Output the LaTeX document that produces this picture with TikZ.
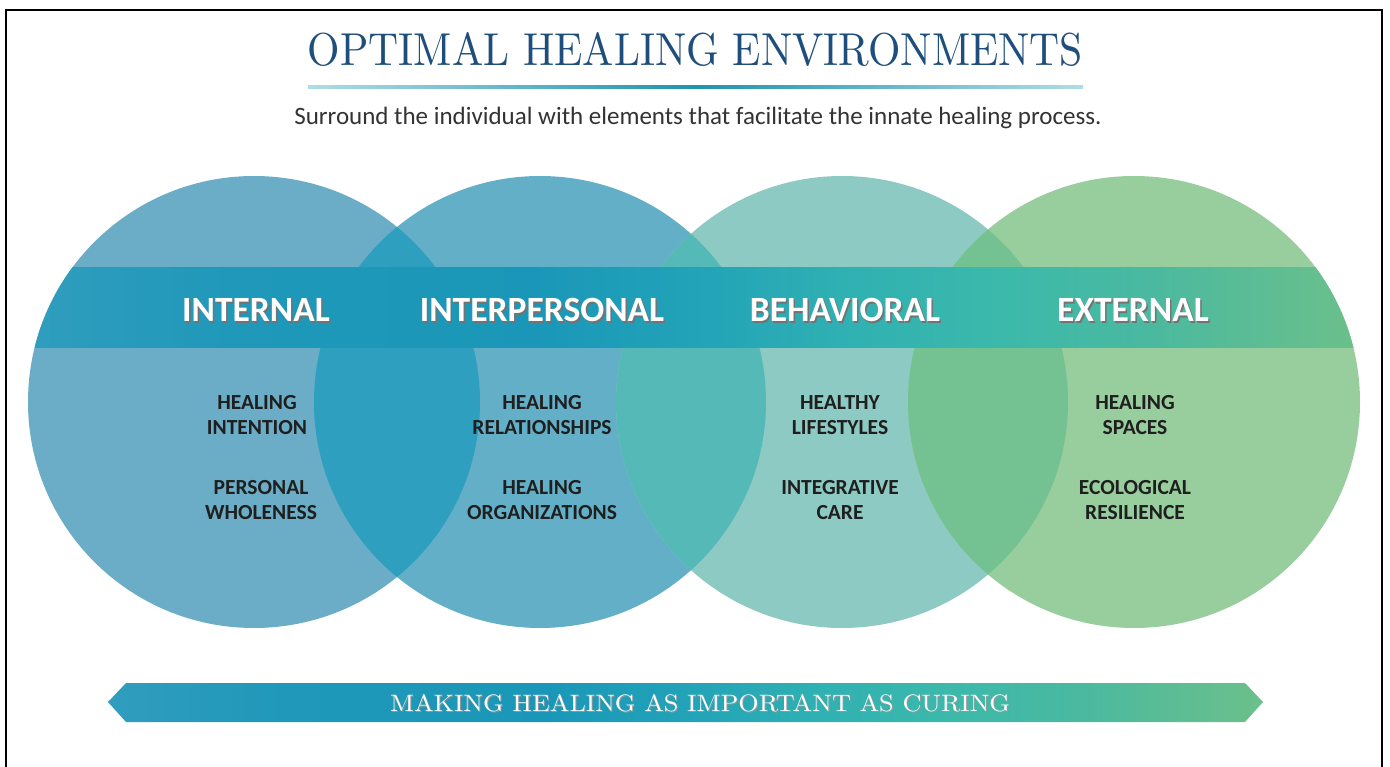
\documentclass[tikz,border=0pt]{standalone}
\usepackage{fontspec}
\usepackage{graphicx}
\newfontfamily\carlito{Carlito}
\definecolor{cA}{HTML}{6BADC7}
\definecolor{cB}{HTML}{64AFC8}
\definecolor{cC}{HTML}{8DCAC3}
\definecolor{cD}{HTML}{98CD9D}
\definecolor{lAB}{HTML}{2F9FBF}
\definecolor{lBC}{HTML}{55BAB7}
\definecolor{lCD}{HTML}{74C191}
\definecolor{bs1}{HTML}{309DBE}
\definecolor{bs2}{HTML}{1F98B9}
\definecolor{bs3}{HTML}{1A97B8}
\definecolor{bs4}{HTML}{22A3B8}
\definecolor{bs5}{HTML}{30B1B2}
\definecolor{bs6}{HTML}{3CB9AB}
\definecolor{bs7}{HTML}{4AB9A0}
\definecolor{bs8}{HTML}{6CC08A}
\definecolor{titleblue}{HTML}{1E4E7C}
\definecolor{linemid}{HTML}{1E93B0}
\definecolor{lineend}{HTML}{B0DCE5}
\pgfdeclarehorizontalshading{bandshade}{100bp}{color(0bp)=(bs1); color(25bp)=(bs1); color(33bp)=(bs2); color(44bp)=(bs3); color(50bp)=(bs4); color(56bp)=(bs5); color(61.5bp)=(bs6); color(67bp)=(bs7); color(75bp)=(bs8); color(100bp)=(bs8)}
\begin{document}
\begin{tikzpicture}[x=1pt,y=-1pt,
  hdr/.style={font=\carlito\bfseries\fontsize{35.5}{38}\selectfont, text=white, inner sep=0pt},
  hdrshadow/.style={font=\carlito\bfseries\fontsize{35.5}{38}\selectfont, text=black!55, inner sep=0pt},
  sub/.style={font=\carlito\bfseries\fontsize{21.5}{25}\selectfont, text=black!88, align=center, inner sep=0pt},
  frame/.style={line width=2.5pt, black}]
\useasboundingbox (0,0) rectangle (1390,767);
\fill[white] (0,0) rectangle (1390,767);
\draw[frame] (6,767) -- (6,10) -- (1382,10) -- (1382,767);
% circles
\fill[cA] (254,402) circle[radius=226];
\fill[cB] (540,402) circle[radius=226];
\fill[cC] (842,402) circle[radius=226];
\fill[cD] (1134,402) circle[radius=226];
\begin{scope}
  \clip (254,402) circle[radius=226];
  \fill[lAB] (540,402) circle[radius=226];
\end{scope}
\begin{scope}
  \clip (540,402) circle[radius=226];
  \fill[lBC] (842,402) circle[radius=226];
\end{scope}
\begin{scope}
  \clip (842,402) circle[radius=226];
  \fill[lCD] (1134,402) circle[radius=226];
\end{scope}
% band
\begin{scope}
  \clip (254,402) circle[radius=226] (540,402) circle[radius=226] (842,402) circle[radius=226] (1134,402) circle[radius=226];
  \shade[shading=bandshade] (28,268) rectangle (1360,348);
\end{scope}
% title
\node[text=titleblue, inner sep=0pt] (title) at (695.5,50) {\resizebox{775pt}{33pt}{OPTIMAL HEALING ENVIRONMENTS}};
\shade[left color=lineend, right color=lineend, middle color=linemid] (308,85.5) rectangle (1083,88.5);
\node[font=\carlito\fontsize{25}{28}\selectfont, text=black!80, inner sep=0pt] (subtitle) at (698,118) {Surround the individual with elements that facilitate the innate healing process.};
% headers
\node[hdrshadow] (h1s) at (257.5,311.5) {INTERNAL};
\node[hdr] (h1) at (256,310) {INTERNAL};
\node[hdrshadow] (h2s) at (543.5,311.5) {INTERPERSONAL};
\node[hdr] (h2) at (542,310) {INTERPERSONAL};
\node[hdrshadow] (h3s) at (846.5,311.5) {BEHAVIORAL};
\node[hdr] (h3) at (845,310) {BEHAVIORAL};
\node[hdrshadow] (h4s) at (1134.5,311.5) {EXTERNAL};
\node[hdr] (h4) at (1133,310) {EXTERNAL};
% sub labels
\node[sub] (a1) at (257,415.5) {HEALING\\INTENTION};
\node[sub] (a2) at (261,500) {PERSONAL\\WHOLENESS};
\node[sub] (b1) at (542,415.5) {HEALING\\RELATIONSHIPS};
\node[sub] (b2) at (542,500) {HEALING\\ORGANIZATIONS};
\node[sub] (c1) at (840,415.5) {HEALTHY\\LIFESTYLES};
\node[sub] (c2) at (840,500) {INTEGRATIVE\\CARE};
\node[sub] (d1) at (1135,415.5) {HEALING\\SPACES};
\node[sub] (d2) at (1135,500) {ECOLOGICAL\\RESILIENCE};
% bottom arrow
\shade[shading=bandshade] (108,702) -- (126,683) -- (1245,683) -- (1263,702) -- (1245,722) -- (126,722) -- cycle;
\node[text=black!40, inner sep=0pt] (bts) at (701,704) {\resizebox{620pt}{17pt}{MAKING HEALING AS IMPORTANT AS CURING}};
\node[text=white, inner sep=0pt] (bt) at (700,703) {\resizebox{620pt}{17pt}{MAKING HEALING AS IMPORTANT AS CURING}};
\end{tikzpicture}
\end{document}
